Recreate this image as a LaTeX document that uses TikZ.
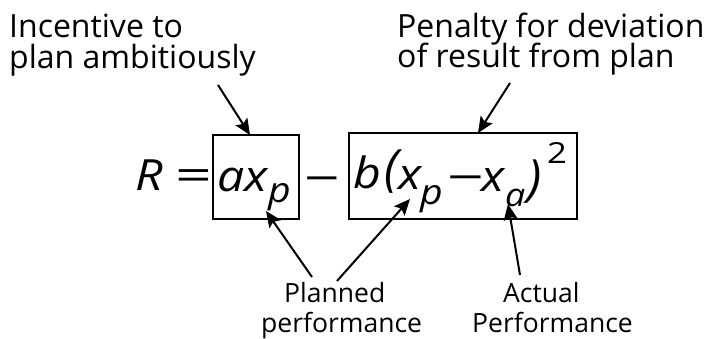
\documentclass[tikz,border=0pt]{standalone}
\usepackage{fontspec}
\setmainfont{Open Sans}
\usetikzlibrary{arrows.meta}
\newcommand\wide[1]{\scalebox{1.12}[1]{#1}}
\begin{document}
\begin{tikzpicture}[x=1pt,y=-1pt,
  lbl/.style={font=\fontsize{32}{36}\selectfont, inner sep=0pt, anchor=base west},
  sml/.style={font=\fontsize{26.5}{30}\selectfont, inner sep=0pt, anchor=base west},
  eqa/.style={font=\fontsize{43}{44}\selectfont\itshape, inner sep=0pt, anchor=base west},
  pars/.style={font=\fontsize{50}{52}\selectfont\itshape, inner sep=0pt, anchor=base west},
  subs/.style={font=\fontsize{35}{36}\selectfont\itshape, inner sep=0pt, anchor=base west},
  suba/.style={font=\fontsize{32}{34}\selectfont\itshape, inner sep=0pt, anchor=base west},
  sups/.style={font=\fontsize{29}{30}\selectfont, inner sep=0pt, anchor=base west},
  boxed/.style={draw, line width=1.6pt, inner sep=0pt},
  arr/.style={line width=2pt, -{Stealth[length=16pt,width=14pt,inset=3pt]}}]
\useasboundingbox (0,0) rectangle (710,339);
% top labels
\node[lbl] (inc1) at (9,38) {Incentive to};
\node[lbl] (inc2) at (9,69) {plan ambitiously};
\node[lbl] (pen1) at (397,38) {Penalty for deviation};
\node[lbl] (pen2) at (397,68) {of result from plan};
% boxes
\node[boxed, minimum width=86pt, minimum height=84pt] (box1) at (256,177) {};
\node[boxed, minimum width=228pt, minimum height=86pt] (box2) at (463,176) {};
% formula
\node[eqa] (rr) at (135,191) {\wide{R}};
\node[eqa] (eqs) at (175,191) {\upshape\scalebox{1.5}[1]{=}};
\node[eqa] (ax) at (217,192) {\wide{ax}};
\node[subs] (xp1) at (268,203) {\wide{p}};
\node[eqa] (minus) at (304,194) {\upshape\scalebox{1.45}[1]{−}};
\node[eqa] (bb) at (353,189) {\wide{b}};
\node[pars] (lpar) at (384,186) {(};
\node[eqa] (x2) at (398,190) {\wide{x}};
\node[subs] (xp2) at (420,205) {\wide{p}};
\node[eqa] (minus2) at (447,193) {\upshape\scalebox{1.5}[1]{−}};
\node[eqa] (x3) at (481,192) {\wide{x}};
\node[suba] (xa) at (505,207) {\wide{a}};
\node[pars] (rpar) at (527,196) {)};
\node[sups] (two) at (547,164) {\scalebox{1.2}[1]{2}};
% bottom labels
\node[sml] (pl1) at (284,302) {Planned};
\node[sml] (pl2) at (261,333) {performance};
\node[sml] (ac1) at (503,302) {Actual};
\node[sml] (ac2) at (472,333) {Performance};
% connector ends
\coordinate (s1) at (218,85);
\coordinate (e1) at (250,135);
\coordinate (s2) at (510,83);
\coordinate (e2) at (478,133);
\coordinate (s3) at (312,277);
\coordinate (e3) at (266,211);
\coordinate (s4) at (337,281);
\coordinate (e4) at (410,199);
\coordinate (s5) at (520,275);
\coordinate (e5) at (508,204);
\draw[arr] (s1) -- (e1);
\draw[arr] (s2) -- (e2);
\draw[arr] (s3) -- (e3);
\draw[arr] (s4) -- (e4);
\draw[arr] (s5) -- (e5);
\end{tikzpicture}
\end{document}
